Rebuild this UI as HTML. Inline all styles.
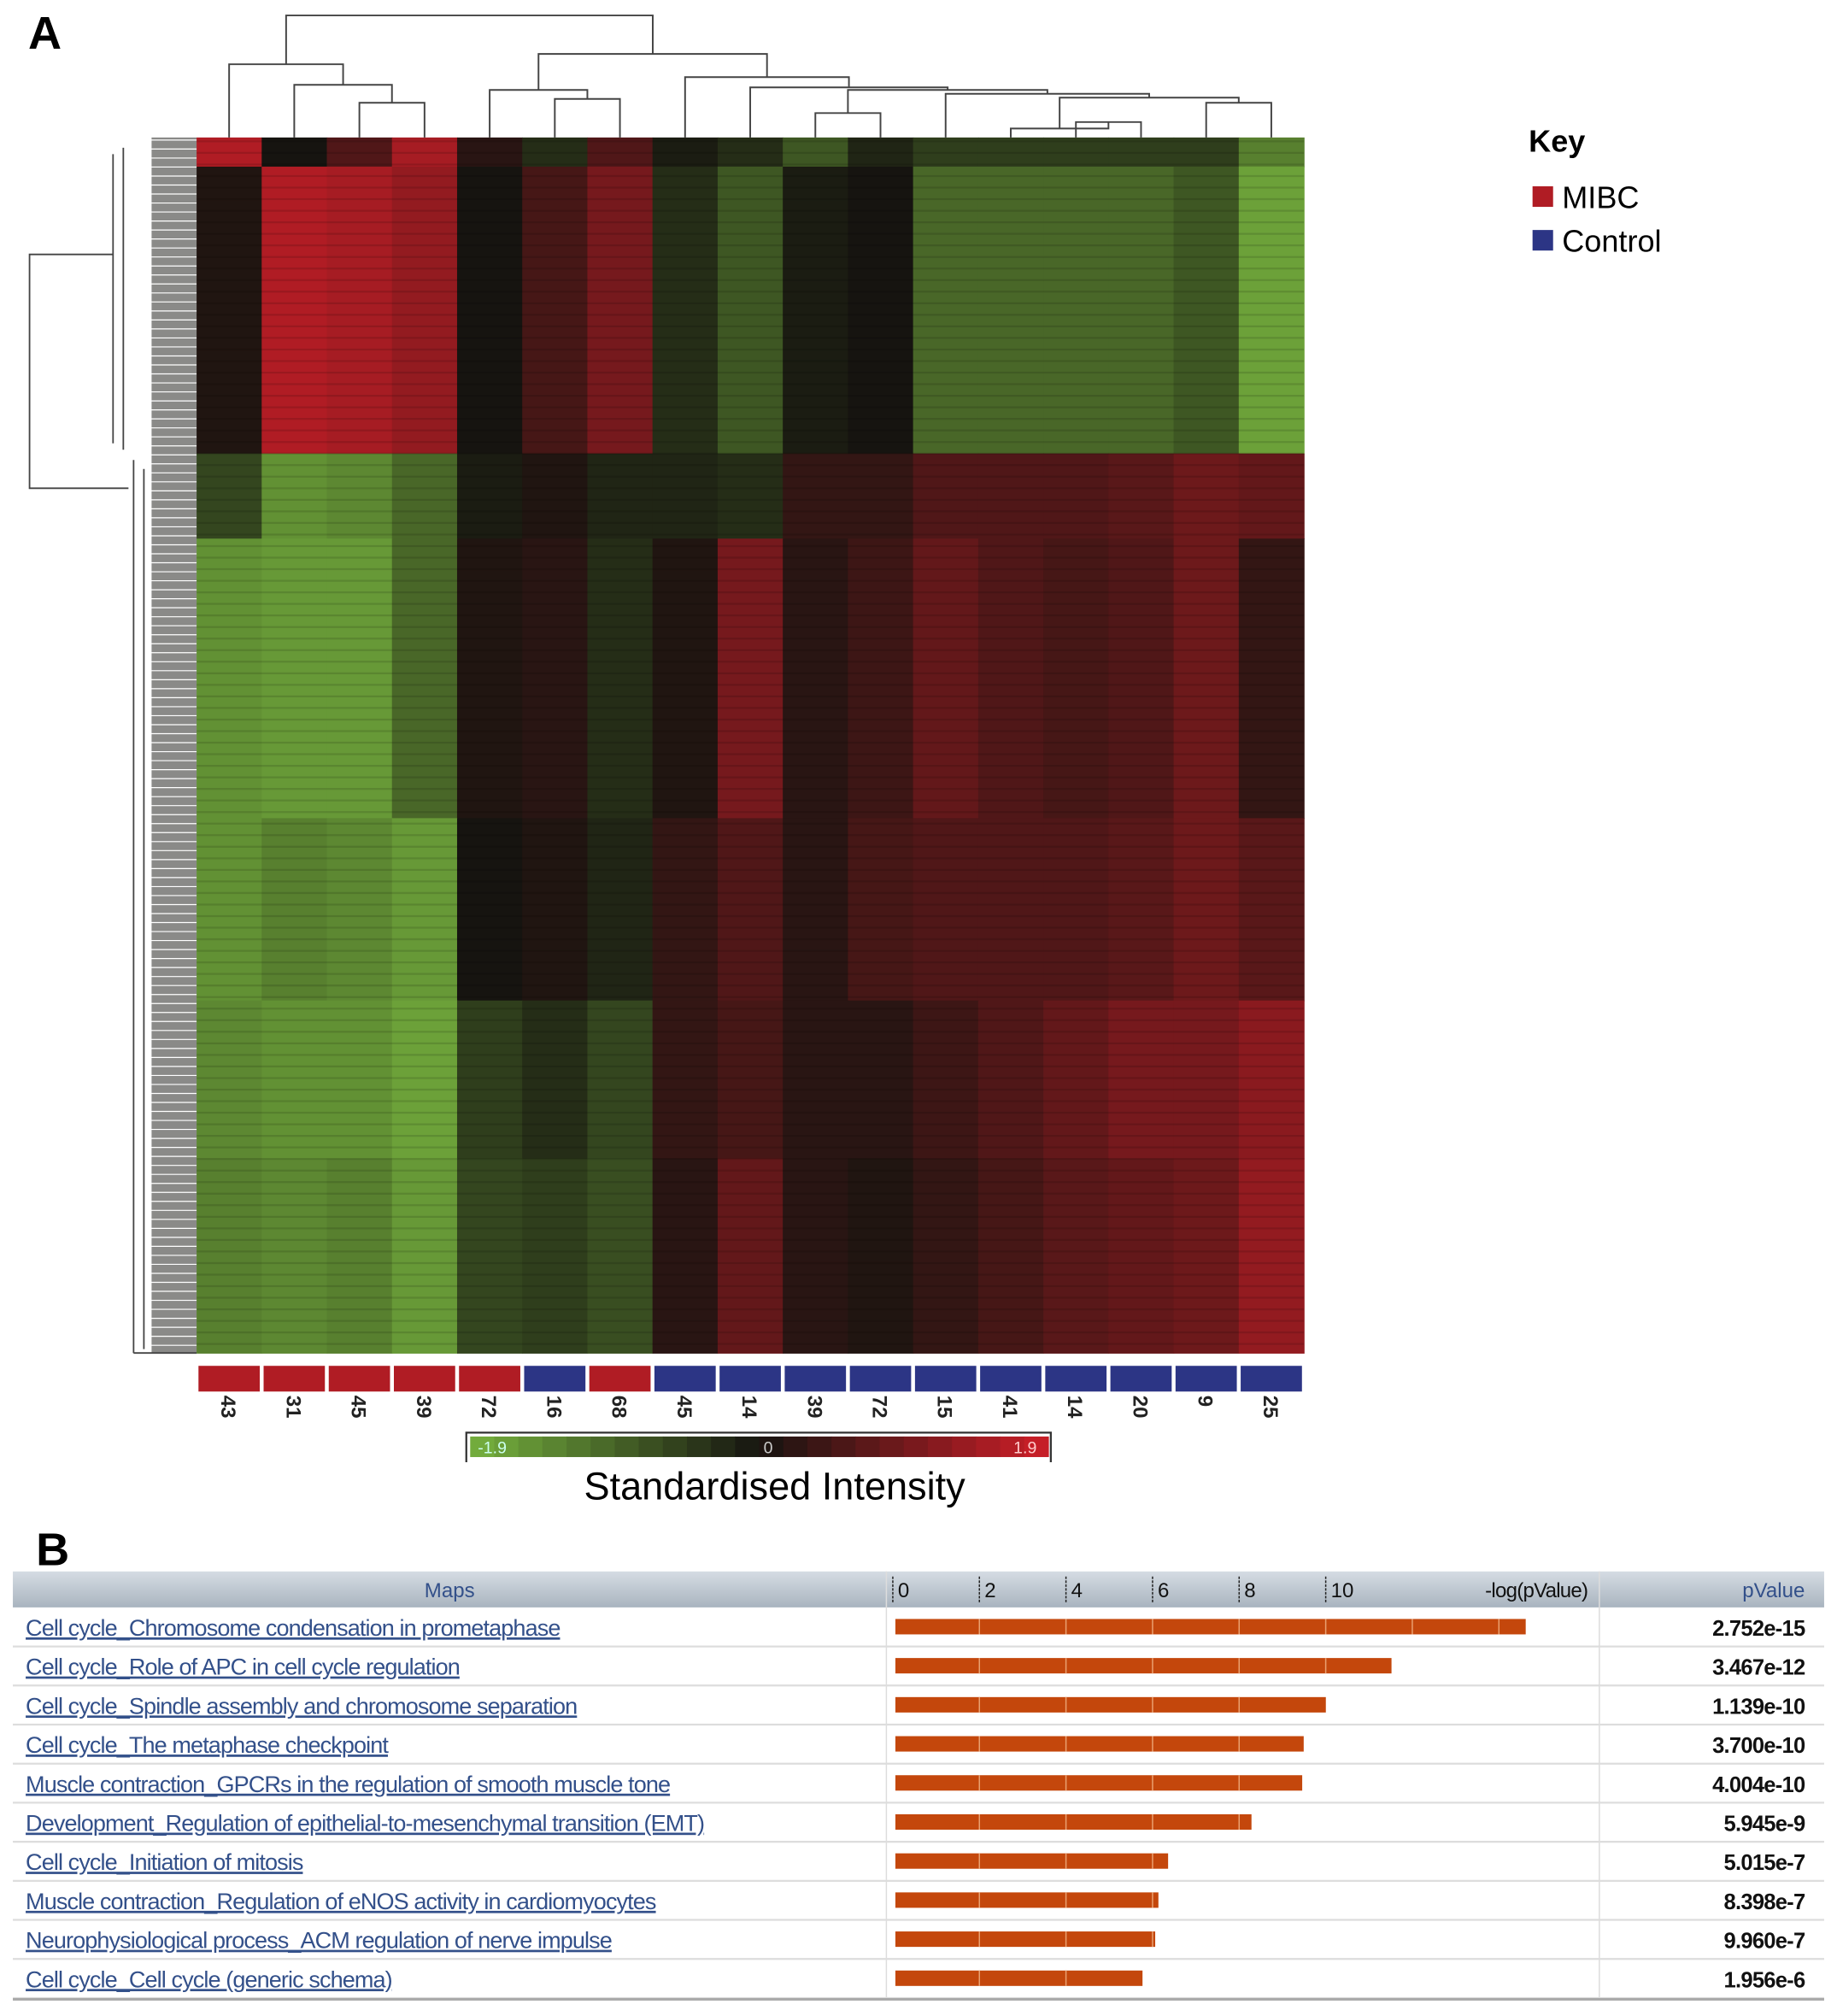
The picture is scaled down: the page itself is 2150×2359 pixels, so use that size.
<!DOCTYPE html>
<html><head><meta charset="utf-8"><style>
html,body{margin:0;padding:0;background:#fff}
svg{display:block}
text{font-family:"Liberation Sans",sans-serif}
</style></head><body>
<svg id="fig" width="2150" height="2359" viewBox="0 0 1430 1569" preserveAspectRatio="none" xmlns="http://www.w3.org/2000/svg">
<rect width="1430" height="1569" fill="#fff"/>
<text x="22" y="38" font-size="36" font-weight="bold">A</text>
<text x="28" y="1218" font-size="36" font-weight="bold">B</text>
<g id="heat"></g>
<g id="coldend" stroke="#444" stroke-width="1.3" fill="none"></g>
<g id="rowdend" stroke="#444" stroke-width="1.2" fill="none"></g>
<g id="samples"></g>
<g>
<text x="1190" y="118" font-size="24" font-weight="bold">Key</text>
<rect x="1193" y="145" width="16" height="16" fill="#b01c24"/>
<text x="1216" y="162" font-size="24">MIBC</text>
<rect x="1193" y="179" width="16" height="16" fill="#2c3585"/>
<text x="1216" y="196" font-size="24">Control</text>
</g>
<g id="cbar"></g>
<text x="603" y="1167" font-size="30" text-anchor="middle">Standardised Intensity</text>
<g id="table"></g>
</svg>
<script>
const NS='http://www.w3.org/2000/svg';
function mk(tag,attrs,parent,txt){const e=document.createElementNS(NS,tag);for(const k in attrs)e.setAttribute(k,attrs[k]);if(txt!==undefined)e.textContent=txt;parent.appendChild(e);return e;}

// ---- heatmap data ----
const sampleLabels=['43','31','45','39','72','16','68','45','14','39','72','15','41','14','20','9','25'];
const sampleGroups=['MIBC','MIBC','MIBC','MIBC','MIBC','Control','MIBC','Control','Control','Control','Control','Control','Control','Control','Control','Control','Control'];
const bandEdges=[0,0.024,0.26,0.33,0.56,0.71,0.84,1.0];
const bandA=[1.6,0.0,0.6,1.5,0.2,-0.3,0.6,-0.1,-0.3,-0.8,-0.2,-0.5,-0.5,-0.5,-0.5,-0.5,-1.3];
const bandB=[0.1,1.6,1.5,1.3,0.0,0.5,1.0,-0.3,-0.8,-0.1,0.0,-1.0,-1.0,-1.0,-1.0,-0.8,-1.7];
const bandC=[-0.6,-1.5,-1.4,-1.0,-0.1,0.1,-0.2,-0.2,-0.3,0.3,0.3,0.6,0.6,0.6,0.7,0.9,0.8];
const bandD=[-1.5,-1.6,-1.6,-1.0,0.1,0.2,-0.3,0.1,1.0,0.2,0.4,0.8,0.6,0.5,0.6,0.9,0.3];
const bandE=[-1.5,-1.3,-1.4,-1.6,0.0,0.1,-0.2,0.3,0.6,0.2,0.5,0.6,0.6,0.6,0.7,0.9,0.7];
const bandF=[-1.4,-1.5,-1.5,-1.7,-0.5,-0.3,-0.6,0.3,0.5,0.2,0.2,0.4,0.6,0.8,1.0,1.0,1.2];
const bandG=[-1.3,-1.4,-1.3,-1.6,-0.6,-0.5,-0.7,0.2,0.8,0.2,0.1,0.3,0.5,0.7,0.8,0.9,1.3];
const bands=[bandA,bandB,bandC,bandD,bandE,bandF,bandG];

const HX0=153,HX1=1015,HY0=107,HY1=1053;
const nC=sampleLabels.length,cw=(HX1-HX0)/nC;
const xCol=i=>HX0+i*cw;
const yFrac=f=>HY0+f*(HY1-HY0);
function color(v){const t=Math.min(1,Math.abs(v)/1.9);const b=[22,20,16];
 const e=v<0?[118,178,62]:[205,30,40];
 return 'rgb('+b.map((c,k)=>Math.round(c+(e[k]-c)*t)).join(',')+')';}
const heat=document.getElementById('heat');
bands.forEach((row,bi)=>{row.forEach((v,ci)=>{
 const r=mk('rect',{x:xCol(ci),y:yFrac(bandEdges[bi]),width:cw+0.5,height:yFrac(bandEdges[bi+1])-yFrac(bandEdges[bi])+0.5,fill:color(v)},heat);
 
 
});});
for(let y=HY0+3;y<HY1;y+=9){mk('line',{x1:HX0,x2:HX1,y1:y,y2:y,stroke:'rgba(0,0,0,0.12)','stroke-width':1.5},heat);}

// sample annotation
const samples=document.getElementById('samples');
sampleLabels.forEach((lab,i)=>{
 const r=mk('rect',{x:xCol(i)+1.5,y:1063,width:cw-3,height:20,fill:sampleGroups[i]==='MIBC'?'#b01c24':'#2c3585'},samples);
 
 
 const cx=xCol(i)+cw/2;
 const t=mk('text',{x:0,y:0,'font-size':16,'font-weight':'bold',fill:'#222',transform:'translate('+(cx-6)+',1086) rotate(90)'},samples,lab);
 
 
});

// column dendrogram
const cd=document.getElementById('coldend');
const cx=i=>xCol(i)+cw/2;
function U(x1,y1,x2,y2,h){mk('path',{d:'M'+x1+' '+y1+'V'+h+'H'+x2+'V'+y2},cd);return (x1+x2)/2;}
let a=U(cx(2),107,cx(3),107,80);
let b=U(cx(1),107,a,80,66);
let L=U(cx(0),107,b,66,50);
let m=U(cx(5),107,cx(6),107,77);
let M=U(cx(4),107,m,77,70);
let r1=U(cx(9),107,cx(10),107,88);
let r2=U(cx(13),107,cx(14),107,95);
let r3=U(cx(15),107,cx(16),107,80);
let r4=U(cx(12),107,r2,95,100);
let r5=U(r4,100,r3,80,76);
let r6=U(cx(11),107,r5,76,73);
let r7=U(r1,88,r6,73,70);
let r8=U(cx(8),107,r7,70,68);
let r9=U(cx(7),107,r8,68,60);
let R=U(M,70,r9,60,42);
U(L,50,R,42,12);

// row dendrogram
const rd=document.getElementById('rowdend');
mk('rect',{x:118,y:HY0,width:35,height:HY1-HY0,fill:'#8a8a88',stroke:'none'},rd);
for(let y=HY0+2;y<HY1;y+=7){mk('line',{x1:100+((y*7)%18),x2:153,y1:y,y2:y,stroke:'#fff','stroke-width':0.8},rd);}
mk('path',{d:'M96 115V350 M104 358V1053 M88 120V345 M112 365V1050'},rd);
mk('path',{d:'M88 198H23V380H100'},rd);
mk('path',{d:'M104 1053H153'},rd);

// color bar
const cb=document.getElementById('cbar');
const cbX0=366,cbX1=816,steps=24;
for(let k=0;k<steps;k++){const v=-1.9+3.8*(k+0.5)/steps;
 mk('rect',{x:cbX0+k*(cbX1-cbX0)/steps,y:1118,width:(cbX1-cbX0)/steps+0.5,height:16,fill:color(v)},cb);}
mk('path',{d:'M363 1138V1115H818V1138',stroke:'#333','stroke-width':1.5,fill:'none'},cb);
mk('text',{x:372,y:1131,'font-size':13,fill:'#cfe'},cb,'-1.9');
mk('text',{x:598,y:1131,'font-size':13,fill:'#ccc','text-anchor':'middle'},cb,'0');
mk('text',{x:807,y:1131,'font-size':13,fill:'#fcc','text-anchor':'end'},cb,'1.9');

// ---- table data ----
const mapNames=['Cell cycle_Chromosome condensation in prometaphase','Cell cycle_Role of APC in cell cycle regulation','Cell cycle_Spindle assembly and chromosome separation','Cell cycle_The metaphase checkpoint','Muscle contraction_GPCRs in the regulation of smooth muscle tone','Development_Regulation of epithelial-to-mesenchymal transition (EMT)','Cell cycle_Initiation of mitosis','Muscle contraction_Regulation of eNOS activity in cardiomyocytes','Neurophysiological process_ACM regulation of nerve impulse','Cell cycle_Cell cycle (generic schema)'];
const pValues=[2.752e-15,3.467e-12,1.139e-10,3.700e-10,4.004e-10,5.945e-9,5.015e-7,8.398e-7,9.960e-7,1.956e-6];
const pLabels=['2.752e-15','3.467e-12','1.139e-10','3.700e-10','4.004e-10','5.945e-9','5.015e-7','8.398e-7','9.960e-7','1.956e-6'];
const axisTicks=[0,2,4,6,8,10];

const tb=document.getElementById('table');
const TX0=10,TX1=1420,C1=690,C2=1245,HY=1223,HH=28,RH=30.4;
const xBar=v=>697+v*33.7;
const defs=mk('defs',{},document.getElementById('fig'));
const g=mk('linearGradient',{id:'hg',x1:0,y1:0,x2:0,y2:1},defs);
mk('stop',{offset:0,'stop-color':'#d5dce3'},g);mk('stop',{offset:1,'stop-color':'#a9b4bf'},g);
const hdr=mk('rect',{x:TX0,y:HY,width:TX1-TX0,height:HH,fill:'url(#hg)'},tb);


mk('line',{x1:C1,x2:C1,y1:HY,y2:HY+HH+RH*10,stroke:'#ddd'},tb);
mk('line',{x1:C2,x2:C2,y1:HY,y2:HY+HH+RH*10,stroke:'#ddd'},tb);
mk('text',{x:350,y:HY+20,'font-size':16,fill:'#33508a','text-anchor':'middle'},tb,'Maps');
mk('text',{x:1405,y:HY+20,'font-size':16,fill:'#33508a','text-anchor':'end'},tb,'pValue');
mk('text',{x:1236,y:HY+20,'font-size':16,fill:'#111','text-anchor':'end','letter-spacing':'-0.5'},tb,'-log(pValue)');
axisTicks.forEach(t=>{
 const x=xBar(t)-2;
 mk('line',{x1:x,x2:x,y1:HY+4,y2:HY+HH-4,stroke:'#222','stroke-dasharray':'2,1'},tb);
 const tt=mk('text',{x:x+4,y:HY+20,'font-size':16,fill:'#111'},tb,String(t));
 
 
});
mapNames.forEach((n,i)=>{
 const y0=HY+HH+i*RH;
 mk('line',{x1:TX0,x2:TX1,y1:y0+RH,y2:y0+RH,stroke:'#ddd','stroke-width':1.5},tb);
 const t=mk('text',{x:20,y:y0+22,'font-size':18,fill:'#33508a','text-decoration':'underline','letter-spacing':'-0.6'},tb,n);
 
 
 const v=-Math.log10(pValues[i]);
 const bar=mk('rect',{x:xBar(0),y:y0+9,width:xBar(v)-xBar(0),height:12,fill:'#c4470c'},tb);
 
 
 axisTicks.concat([12,14]).forEach(tk=>{if(tk>0&&tk<v){mk('line',{x1:xBar(tk)-2,x2:xBar(tk)-2,y1:y0+9,y2:y0+21,stroke:'#e9a070','stroke-width':1},tb);}});
 const p=mk('text',{x:1405,y:y0+22,'font-size':17,'font-weight':'bold',fill:'#111','text-anchor':'end','letter-spacing':'-0.5'},tb,pLabels[i]);
 
 
});
mk('line',{x1:TX0,x2:TX1,y1:HY+HH+RH*10+1,y2:HY+HH+RH*10+1,stroke:'#aaa','stroke-width':2},tb);
</script>
</body></html>
